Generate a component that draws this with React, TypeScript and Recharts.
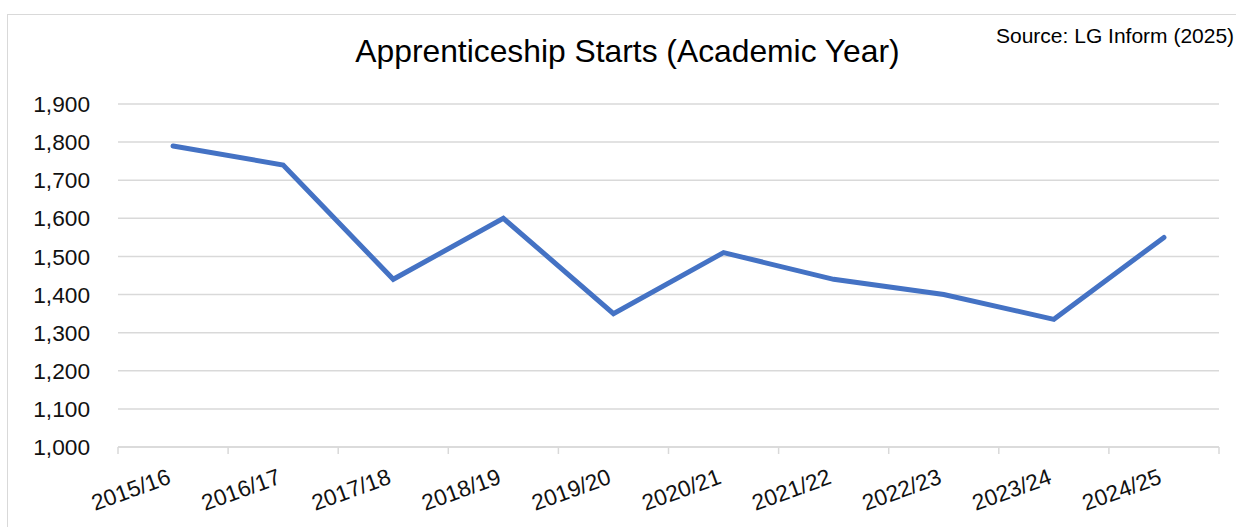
import React from 'react';
import { LineChart, Line, XAxis, YAxis, CartesianGrid } from 'recharts';

const years = ['2015/16', '2016/17', '2017/18', '2018/19', '2019/20', '2020/21', '2021/22', '2022/23', '2023/24', '2024/25'];
const starts = [1790, 1740, 1440, 1600, 1350, 1510, 1440, 1400, 1335, 1550];
const yTicks = [1000, 1100, 1200, 1300, 1400, 1500, 1600, 1700, 1800, 1900];

const data = years.map((year, i) => ({ year, starts: starts[i] }));

const W = 1236;
const H = 527;
const AXIS_W = 118;
const RIGHT = 17;
const BAND = (W - AXIS_W - RIGHT) / years.length;
const GRID = '#d9d9d9';
const FONT = '"Liberation Sans", Arial, sans-serif';

const XTick = (props: any) => {
  const { x, y, payload, index } = props;
  const last = index === years.length - 1;
  return (
    <g>
      <line x1={x - BAND / 2} x2={x - BAND / 2} y1={y} y2={y + 7} stroke={GRID} strokeWidth={1.5} />
      {last && <line x1={x + BAND / 2} x2={x + BAND / 2} y1={y} y2={y + 7} stroke={GRID} strokeWidth={1.5} />}
      <text
        x={x - 1}
        y={y + 36}
        textAnchor="end"
        transform={`rotate(-20, ${x - 1}, ${y + 36})`}
        fontSize={22.7}
        fill="#111"
        fontFamily={FONT}
      >
        {payload.value}
      </text>
    </g>
  );
};

const App: React.FC = () => {
  return (
    <div style={{ position: 'absolute', left: 0, top: 0, width: W, height: H, overflow: 'hidden', fontFamily: FONT }}>
      <div style={{ position: 'absolute', left: 7, top: 14, width: 1300, height: 600, border: `1px solid ${GRID}` }} />
      <div style={{ position: 'absolute', left: 0, width: 1255, top: 33, textAlign: 'center', fontSize: 31.8, color: '#000' }}>
        Apprenticeship Starts (Academic Year)
      </div>
      <div style={{ position: 'absolute', left: 996, top: 24, fontSize: 21, color: '#000', whiteSpace: 'nowrap' }}>
        Source: LG Inform (2025)
      </div>
      <div style={{ position: 'absolute', left: 0, top: 0 }}>
        <LineChart width={W} height={H} data={data} margin={{ top: 104, right: RIGHT, left: 0, bottom: 10 }}>
          <CartesianGrid vertical={false} stroke={GRID} strokeWidth={1.5} />
          <XAxis
            dataKey="year"
            interval={0}
            height={70}
            padding={{ left: BAND / 2, right: BAND / 2 }}
            axisLine={{ stroke: GRID, strokeWidth: 1.5 }}
            tickLine={false}
            tickSize={0}
            tickMargin={0}
            tick={<XTick />}
          />
          <YAxis
            width={AXIS_W}
            domain={[1000, 1900]}
            ticks={yTicks}
            axisLine={false}
            tickLine={false}
            tickSize={0}
            tickMargin={28}
            tickFormatter={(v: number) => v.toLocaleString('en-US')}
            tick={{ fontSize: 22.7, fill: '#111', fontFamily: FONT }}
          />
          <Line
            type="linear"
            dataKey="starts"
            stroke="#4472C4"
            strokeWidth={5}
            strokeLinecap="round"
            dot={false}
            activeDot={false}
            isAnimationActive={false}
          />
        </LineChart>
      </div>
    </div>
  );
};

export default App;
